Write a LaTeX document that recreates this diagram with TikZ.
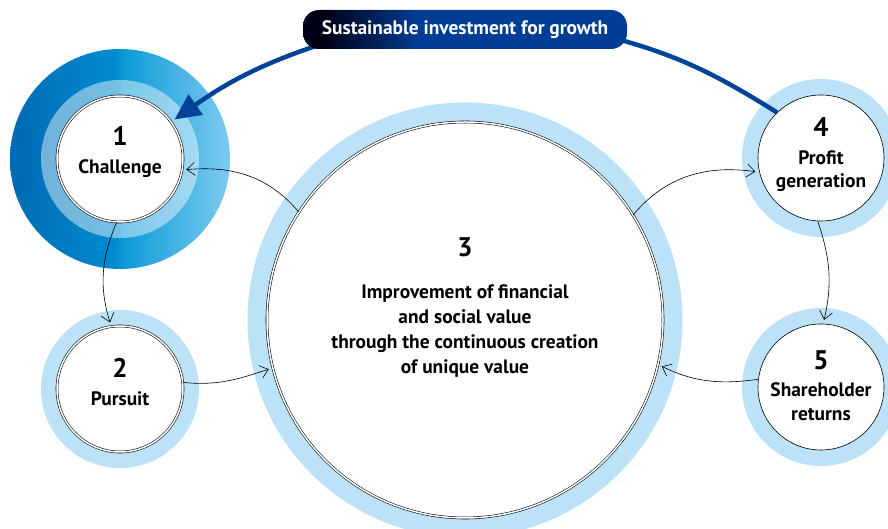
\documentclass[tikz,border=0pt]{standalone}
\usepackage{fontspec}
\setmainfont{PT Sans}
\usetikzlibrary{positioning,arrows.meta}

\definecolor{ringblue}{RGB}{188,226,247}
\definecolor{arcblue}{RGB}{0,66,152}
\definecolor{bannavy}{RGB}{0,62,150}
\definecolor{bandark}{RGB}{0,0,20}
\definecolor{hubdark}{RGB}{0,105,180}
\definecolor{hubmid}{RGB}{0,140,208}
\definecolor{hubmidb}{RGB}{15,155,215}
\definecolor{hublight}{RGB}{125,202,240}

\pgfdeclarehorizontalshading{hubshade}{100bp}{color(0bp)=(hubdark); color(25bp)=(hubdark); color(49bp)=(hubmid); color(51bp)=(hubmidb); color(75bp)=(hublight); color(100bp)=(hublight)}
\pgfdeclarehorizontalshading{banshade}{100bp}{color(0bp)=(bandark); color(28bp)=(bandark); color(43bp)=(bannavy); color(100bp)=(bannavy)}

\tikzset{
  disc/.style={circle, fill=white, draw, line width=0.55bp, double=white, double distance=1.5bp, minimum size=126bp, inner sep=0pt},
  lonedisc/.style={circle, fill=white, draw, line width=0.6bp, minimum size=126bp, inner sep=0pt},
  flow/.style={-{Straight Barb[length=8bp,width=13bp]}, line width=0.6bp, shorten >=4bp},
  bigarc/.style={arcblue, line width=4.5bp},
  banner/.style={rounded corners=16bp, shading=banshade, minimum width=324bp, minimum height=39bp, inner sep=0pt, text=white, font=\fontsize{19.5}{19.5}\selectfont\bfseries},
  num/.style={font=\fontsize{27}{27}\selectfont\bfseries, anchor=base, inner sep=0pt},
  lab/.style={font=\fontsize{19.5}{19.5}\selectfont\bfseries, anchor=base, inner sep=0pt}
}

\begin{document}
\begin{tikzpicture}[x=1bp, y=1bp]
\clip (0,0) rectangle (888,529);
\coordinate (p1) at (120,370);
\coordinate (p2) at (120,140);
\coordinate (p3) at (465,209);
\coordinate (p4) at (821,371);
\coordinate (p5) at (821,142);

% rings
\shade[shading=hubshade] (p1) circle[radius=110];
\fill[white, opacity=0.45] (p1) circle[radius=79];
\fill[ringblue] (p2) circle[radius=79];
\fill[ringblue] (p3) circle[radius=217.5];
\fill[ringblue] (p4) circle[radius=79];
\fill[ringblue] (p5) circle[radius=79];

% discs
\node[disc] (c1) at (p1) {};
\node[disc] (c2) at (p2) {};
\node[disc, minimum size=396bp] (c3) at (p3) {};
\node[lonedisc] (c4) at (p4) {};
\node[lonedisc] (c5) at (p5) {};

% flows
\draw[flow] (c3.147) to[out=130, in=5] (c1.-10);
\draw[flow] (c1.-93) to[out=-113, in=107] (c2.98);
\draw[flow] (c2.6) to[out=-6, in=198] (c3.194);
\draw[flow] (c3.32) to[out=50, in=172] (c4.193);
\draw[flow] (c4.-93) to[out=-71, in=77] (c5.88);
\draw[flow] (c5.173) to[out=188, in=-26] (c3.-13);

% banner
\coordinate (bl) at (322,485);
\coordinate (br) at (610,492);
\draw[bigarc, -{Triangle[length=26bp,width=24bp]}, shorten >=4bp] (bl) to[out=198, in=35] (c1.36);
\draw[bigarc] (br) to[out=-15, in=148] (c4.134);
\node[banner] (ban) at (465,499.5) {Sustainable investment for growth};

% texts
\node[num] (n1) at ([yshift=13bp]c1.center) {1};
\node[lab] (l1) at ([yshift=-15bp]c1.center) {Challenge};
\node[num] (n2) at ([yshift=11bp]c2.center) {2};
\node[lab] (l2) at ([yshift=-17bp]c2.center) {Pursuit};
\node[num] (n3) at ([yshift=63bp]c3.center) {3};
\node[lab] (l3a) at ([yshift=21bp]c3.center) {Improvement of financial};
\node[lab] (l3b) at ([yshift=-4bp]c3.center) {and social value};
\node[lab] (l3c) at ([yshift=-29bp]c3.center) {through the continuous creation};
\node[lab] (l3d) at ([yshift=-54bp]c3.center) {of unique value};
\node[num] (n4) at ([yshift=21bp]c4.center) {4};
\node[lab] (l4a) at ([yshift=-7bp]c4.center) {Profit};
\node[lab] (l4b) at ([yshift=-30bp]c4.center) {generation};
\node[num] (n5) at ([yshift=17bp]c5.center) {5};
\node[lab] (l5a) at ([yshift=-10bp]c5.center) {Shareholder};
\node[lab] (l5b) at ([yshift=-34bp]c5.center) {returns};
\end{tikzpicture}
\end{document}
